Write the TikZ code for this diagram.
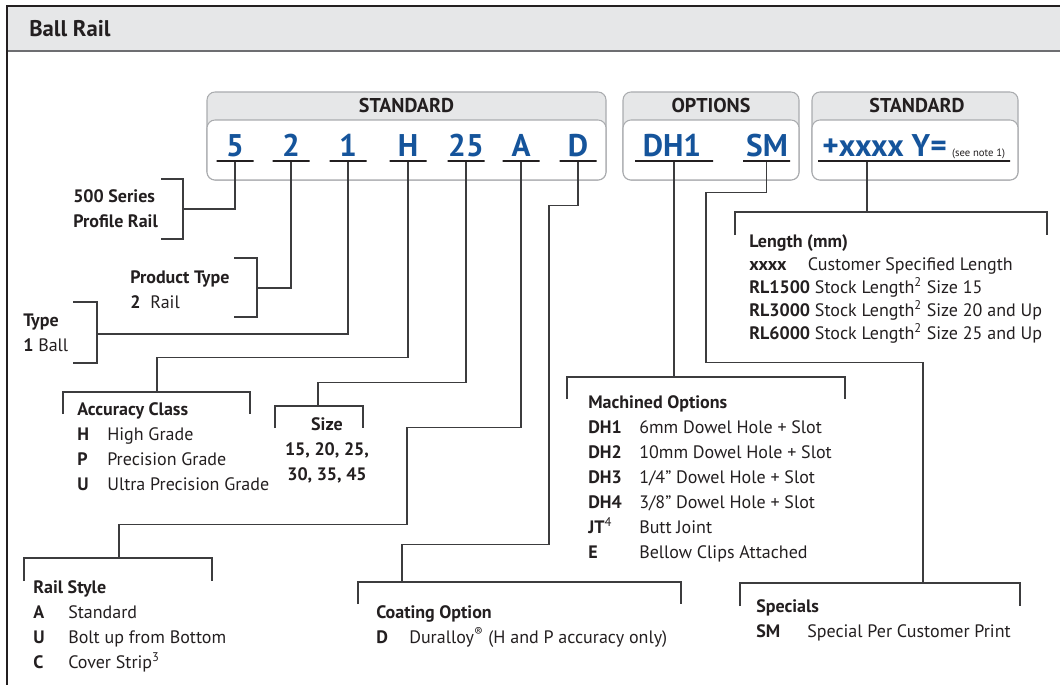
\documentclass[tikz,border=0pt]{standalone}
\usepackage{fontspec}
\setmainfont{PT Sans}
\definecolor{codeblue}{RGB}{21,84,155}
\definecolor{ink}{RGB}{35,31,32}
\definecolor{wire}{RGB}{60,60,62}
\definecolor{panelgray}{RGB}{230,231,232}
\definecolor{boxline}{RGB}{170,172,175}
\begin{document}
\begin{tikzpicture}[x=0.75pt,y=0.75pt,yscale=-1,xscale=1,
    conn/.style={draw=wire, line width=1pt},
    txt/.style={anchor=base west, inner sep=0pt, text=ink, font=\fontsize{13.5}{18.75}\selectfont},
    code/.style={anchor=base, inner sep=0pt, text=codeblue, font=\fontsize{23.5}{28}\selectfont\bfseries},
    uline/.style={draw=ink, line width=1pt, inner sep=0pt, minimum height=0pt, minimum width=#1*0.75pt},
    boxhead/.style={anchor=base, inner sep=0pt, text=ink, font=\fontsize{15}{18}\selectfont\bfseries},
    codebox/.style={draw=boxline, line width=0.8pt, rounded corners=6pt}
    ]
        \useasboundingbox (0,0) rectangle (1060,685);
        %Shape: Title band
        \fill [panelgray] (7,6) rectangle (1060,51) ;
        \draw [color={rgb, 255:red, 109; green, 110; blue, 113 }, line width=1.1pt] (7,51) -- (1060,51) ;
        \draw [ink, line width=1.5pt] (7,685) -- (7,6) -- (1060,6) ;
        % Text Node
        \draw (29,37) node [anchor=base west, inner sep=0pt, text=ink, font=\fontsize{17}{20}\selectfont\bfseries] (title) {Ball Rail};

        %Shape: Code boxes
        \draw [codebox, fill=panelgray] (207,92) rectangle (606,180) ;
        \draw [codebox, fill=white] (207,120) rectangle (606,180) ;
        \draw [codebox, fill=panelgray] (623,92) rectangle (799,180) ;
        \draw [codebox, fill=white] (623,120) rectangle (799,180) ;
        \draw [codebox, fill=panelgray] (812,92) rectangle (1018,180) ;
        \draw [codebox, fill=white] (812,120) rectangle (1018,180) ;
        % Box headers
        \draw (406.5,113) node [boxhead] (hstd) {STANDARD};
        \draw (711,113) node [boxhead] (hopt) {OPTIONS};
        \draw (917,113) node [boxhead] (hlen) {STANDARD};

        % Code letters
        \draw (235,156) node [code] (c5) {5};
        \draw (291,156) node [code] (c2) {2};
        \draw (348,156) node [code] (c1) {1};
        \draw (408,156) node [code] (cH) {H};
        \draw (466,156) node [code] (c25) {25};
        \draw (521,156) node [code] (cA) {A};
        \draw (578,156) node [code] (cD) {D};
        \draw (672,156) node [code] (cDH) {DH1};
        \draw (767,156) node [code] (cSM) {SM};
        \draw (822,156) node [code, anchor=base west] (cLen) {+xxxx Y=\,{\fontsize{8}{9}\selectfont\mdseries\color{ink}(see note 1)}};
        % Underlines
        \draw (235,161) node [uline=37] (u5) {};
        \draw (291,161) node [uline=37] (u2) {};
        \draw (348,161) node [uline=37] (u1) {};
        \draw (408,161) node [uline=37] (uH) {};
        \draw (466,161) node [uline=37] (u25) {};
        \draw (521,161) node [uline=37] (uA) {};
        \draw (578,161) node [uline=37] (uD) {};
        \draw (674,161) node [uline=78] (uDH) {};
        \draw (766.5,161) node [uline=47] (uSM) {};
        \draw (914,161) node [uline=192] (ulen) {};

        % Bracket points
        \coordinate (b500) at (183,209);
        \coordinate (bprod) at (257,288);
        \coordinate (btype) at (97,334);
        \coordinate (bacc) at (157,392);
        \coordinate (bsize) at (318,406);
        \coordinate (brail) at (119,558);
        \coordinate (bcoat) at (402,582);
        \coordinate (bmach) at (674,377);
        \coordinate (blen) at (867,212);
        \coordinate (bspec) at (923,583);

        %Straight Lines: brackets
        \draw [conn] (161,179) -| (b500) |- (161,239) ;
        \draw [conn] (234,258) -| (bprod) |- (234,317) ;
        \draw [conn] (73,302) -| (btype) |- (73,363) ;
        \draw [conn] (63,414) |- (bacc) -| (250,414) ;
        \draw [conn] (275,428) |- (bsize) -| (363,428) ;
        \draw [conn] (24,581) |- (brail) -| (212,581) ;
        \draw [conn] (358,604) |- (bcoat) -| (681,604) ;
        \draw [conn] (567,399) |- (bmach) -| (845,399) ;
        \draw [conn] (735,235) |- (blen) -| (1047,235) ;
        \draw [conn] (740,606) |- (bspec) -| (1020,606) ;

        %Straight Lines: connectors
        \draw [conn] (u5.south) |- (b500) ;
        \draw [conn] (u2.south) |- (bprod) ;
        \draw [conn] (u1.south) |- (btype) ;
        \draw [conn] (uH.south) -- ++(0,196) -| (bacc) ;
        \draw [conn] (u25.south) -- ++(0,221) -| (bsize) ;
        \draw [conn] (uA.south) -- ++(0,266) -| ++(-114,97) -| (brail) ;
        \draw [conn] (uD.south) -- ++(0,44) -| ++(-29,339) -| (bcoat) ;
        \draw [conn] (uDH.south) -- (bmach) ;
        \draw [conn] (uSM.south) -- ++(0,31) -| ++(-60.5,170) -| (bspec) ;
        \draw [conn] (ulen.south -| blen) -- (blen) ;

        % Text Node
        \draw (73,202) node [txt] (t500) {\begin{tabular}[t]{@{}l@{}}\bfseries 500 Series\\\bfseries Profile Rail\end{tabular}};
        % Text Node
        \draw (130,283) node [txt] (tprod) {\begin{tabular}[t]{@{}l@{}}\textbf{Product Type}\\\makebox[15pt][l]{\textbf{2}}Rail\end{tabular}};
        % Text Node
        \draw (23,326) node [txt] (ttype) {\begin{tabular}[t]{@{}l@{}}\textbf{Type}\\\makebox[11.25pt][l]{\textbf{1}}Ball\end{tabular}};
        % Text Node
        \draw (77,415) node [txt] (tacc) {\begin{tabular}[t]{@{}l@{}}\textbf{Accuracy Class}\\
            \makebox[22.5pt][l]{\textbf{H}}High Grade\\
            \makebox[22.5pt][l]{\textbf{P}}Precision Grade\\
            \makebox[22.5pt][l]{\textbf{U}}Ultra Precision Grade\end{tabular}};
        % Text Node
        \draw (327,430) node [txt, anchor=base] (tsize) {\begin{tabular}[t]{@{}c@{}}\bfseries Size\\\bfseries 15, 20, 25,\\\bfseries 30, 35, 45\end{tabular}};
        % Text Node
        \draw (33,593) node [txt] (trail) {\begin{tabular}[t]{@{}l@{}}\textbf{Rail Style}\\
            \makebox[26.25pt][l]{\textbf{A}}Standard\\
            \makebox[26.25pt][l]{\textbf{U}}Bolt up from Bottom\\
            \makebox[26.25pt][l]{\textbf{C}}Cover Strip\textsuperscript{3}\end{tabular}};
        % Text Node
        \draw (376,618) node [txt] (tcoat) {\begin{tabular}[t]{@{}l@{}}\textbf{Coating Option}\\
            \makebox[24.75pt][l]{\textbf{D}}Duralloy\textsuperscript{®} (H and P accuracy only)\end{tabular}};
        % Text Node
        \draw (588,408) node [txt] (tmach) {\begin{tabular}[t]{@{}l@{}}\textbf{Machined Options}\\
            \makebox[38.25pt][l]{\textbf{DH1}}6mm Dowel Hole + Slot\\
            \makebox[38.25pt][l]{\textbf{DH2}}10mm Dowel Hole + Slot\\
            \makebox[38.25pt][l]{\textbf{DH3}}1/4” Dowel Hole + Slot\\
            \makebox[38.25pt][l]{\textbf{DH4}}3/8” Dowel Hole + Slot\\
            \makebox[38.25pt][l]{\textbf{JT}\textsuperscript{4}}Butt Joint\\
            \makebox[38.25pt][l]{\textbf{E}}Bellow Clips Attached\end{tabular}};
        % Text Node
        \draw (749,247) node [txt, font=\fontsize{13.5}{17.4}\selectfont] (tlen) {\begin{tabular}[t]{@{}l@{}}\textbf{Length (mm)}\\
            \makebox[44pt][l]{\textbf{xxxx}}Customer Specified Length\\
            \textbf{RL1500} Stock Length\textsuperscript{2} Size 15\\
            \textbf{RL3000} Stock Length\textsuperscript{2} Size 20 and Up\\
            \textbf{RL6000} Stock Length\textsuperscript{2} Size 25 and Up\end{tabular}};
        % Text Node
        \draw (756,612) node [txt] (tspec) {\begin{tabular}[t]{@{}l@{}}\textbf{Specials}\\
            \makebox[38.25pt][l]{\textbf{SM}}Special Per Customer Print\end{tabular}};
\end{tikzpicture}
\end{document}
